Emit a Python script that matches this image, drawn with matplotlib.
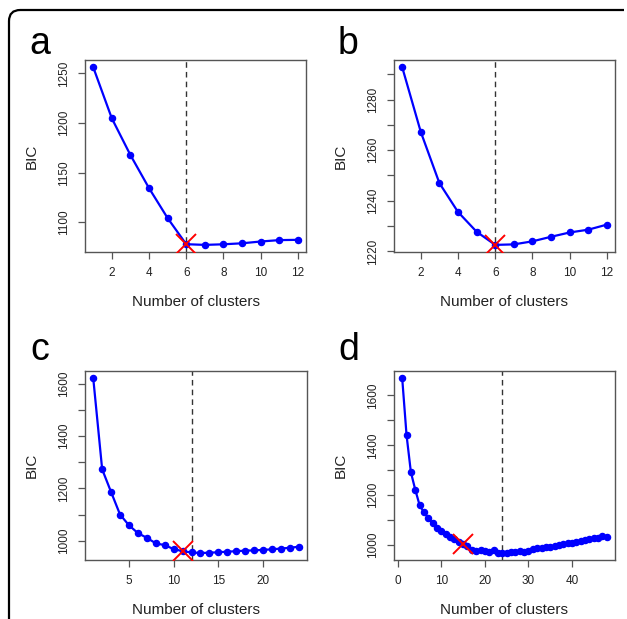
import matplotlib
matplotlib.use("Agg")
import matplotlib.pyplot as plt
from matplotlib.patches import FancyBboxPatch
from matplotlib.transforms import Bbox

plt.rcParams['font.family'] = ['Liberation Sans', 'DejaVu Sans']

# ---- data ----
clusters_a = list(range(1, 13))
bic_a = [1256.4, 1204.9, 1167.9, 1134.6, 1104.4, 1078.1, 1077.4, 1078.0, 1079.0, 1080.8, 1082.2, 1082.5]
clusters_b = list(range(1, 13))
bic_b = [1292.8, 1267.2, 1247.0, 1235.6, 1227.8, 1222.6, 1222.8, 1224.0, 1225.8, 1227.5, 1228.6, 1230.6]
clusters_c = list(range(1, 25))
bic_c = [1622, 1273, 1186, 1100, 1059, 1029, 1011, 990, 983, 968, 960, 955, 953, 954, 956, 958,
         960, 962, 963, 965, 967, 970, 973, 977]
clusters_d = list(range(1, 49))
bic_d = [1670, 1441, 1292, 1222, 1160, 1131, 1109, 1087, 1070, 1055, 1045, 1034, 1024, 1012, 1003, 998,
         981, 977, 979, 977, 971, 981, 970, 968, 970, 973, 974, 976, 973, 975, 985, 987,
         990, 992, 994, 996, 1000, 1004, 1007, 1010, 1014, 1018, 1021, 1024, 1027, 1030, 1035, 1033]

panel_letters = ['a', 'b', 'c', 'd']
chosen_k = [6, 6, 11, 15]     # red cross
dashed_k = [6, 6, 12, 24]     # dashed vertical line
xticks = [[2, 4, 6, 8, 10, 12], [2, 4, 6, 8, 10, 12], [5, 10, 15, 20], [0, 10, 20, 30, 40]]
yticks = [[1100, 1150, 1200, 1250],
          [1220, 1230, 1240, 1250, 1260, 1270, 1280, 1290],
          [1000, 1100, 1200, 1300, 1400, 1500, 1600],
          [1000, 1100, 1200, 1300, 1400, 1500, 1600]]
ylabels_shown = [[1100, 1150, 1200, 1250],
                 [1220, 1240, 1260, 1280],
                 [1000, 1200, 1400, 1600],
                 [1000, 1200, 1400, 1600]]

W, H = 627, 619
fig = plt.figure(figsize=(W / 100, H / 100), dpi=100)

# frame with rounded top-left corner (only top and left edges visible)
frame = FancyBboxPatch((9 / W, -0.2), 1.2, (619 - 10) / H + 0.2,
                       boxstyle="round,pad=0,rounding_size=0.018",
                       transform=fig.transFigure, facecolor='none',
                       edgecolor='black', linewidth=1.6)
fig.patches.append(frame)
frame.set_clip_box(Bbox([[0, 0], [624, 619]]))

# axes boxes in pixels: (left, top, right, bottom)
boxes = [(85, 60, 306, 252), (394, 60, 615, 252), (85, 371, 307, 560), (394, 371, 615, 560)]
letter_pos = [(29, 44), (338, 44), (30, 350), (338, 350)]

data = [(clusters_a, bic_a), (clusters_b, bic_b), (clusters_c, bic_c), (clusters_d, bic_d)]
spine_col = '#555555'

for i, ((xs, ys), (l, t, r, b)) in enumerate(zip(data, boxes)):
    ax = fig.add_axes([l / W, 1 - b / H, (r - l) / W, (b - t) / H])
    ax.plot(xs, ys, color='#0000ff', lw=1.6, marker='o', markersize=4.4, zorder=3)
    ax.axvline(dashed_k[i], color='#333333', lw=1.0, ls=(0, (4, 3)), zorder=2)
    yk = ys[xs.index(chosen_k[i])]
    ax.plot([chosen_k[i]], [yk], marker='x', color='#ff0000', markersize=14, mew=1.4, zorder=4)

    xr = max(xs) - min(xs)
    yr = max(ys) - min(ys)
    ax.set_xlim(min(xs) - 0.04 * xr, max(xs) + 0.04 * xr)
    ax.set_ylim(min(ys) - 0.04 * yr, max(ys) + 0.04 * yr)
    ax.set_xticks(xticks[i])
    ax.set_xticklabels([str(v) for v in xticks[i]])
    ax.set_yticks(yticks[i])
    ax.set_yticklabels([str(v) if v in ylabels_shown[i] else '' for v in yticks[i]],
                       rotation=90, va='center')
    ax.tick_params(axis='both', direction='out', length=5, width=0.9, color=spine_col,
                   labelsize=8.5, labelcolor='#222222', pad=6)
    for s in ax.spines.values():
        s.set_color(spine_col)
        s.set_linewidth(1.0)

    ax.set_xlabel('Number of clusters', fontsize=11, color='#222222', va='center')
    ax.xaxis.set_label_coords(0.5, -50 / (b - t))
    ax.set_ylabel('BIC', fontsize=11, color='#222222', va='center')
    ax.yaxis.set_label_coords(-53 / (r - l), 0.5)

    fig.text(letter_pos[i][0] / W, 1 - letter_pos[i][1] / H, panel_letters[i],
             fontsize=27, ha='left', va='center', color='black')

fig.savefig('out.png', dpi=100)
